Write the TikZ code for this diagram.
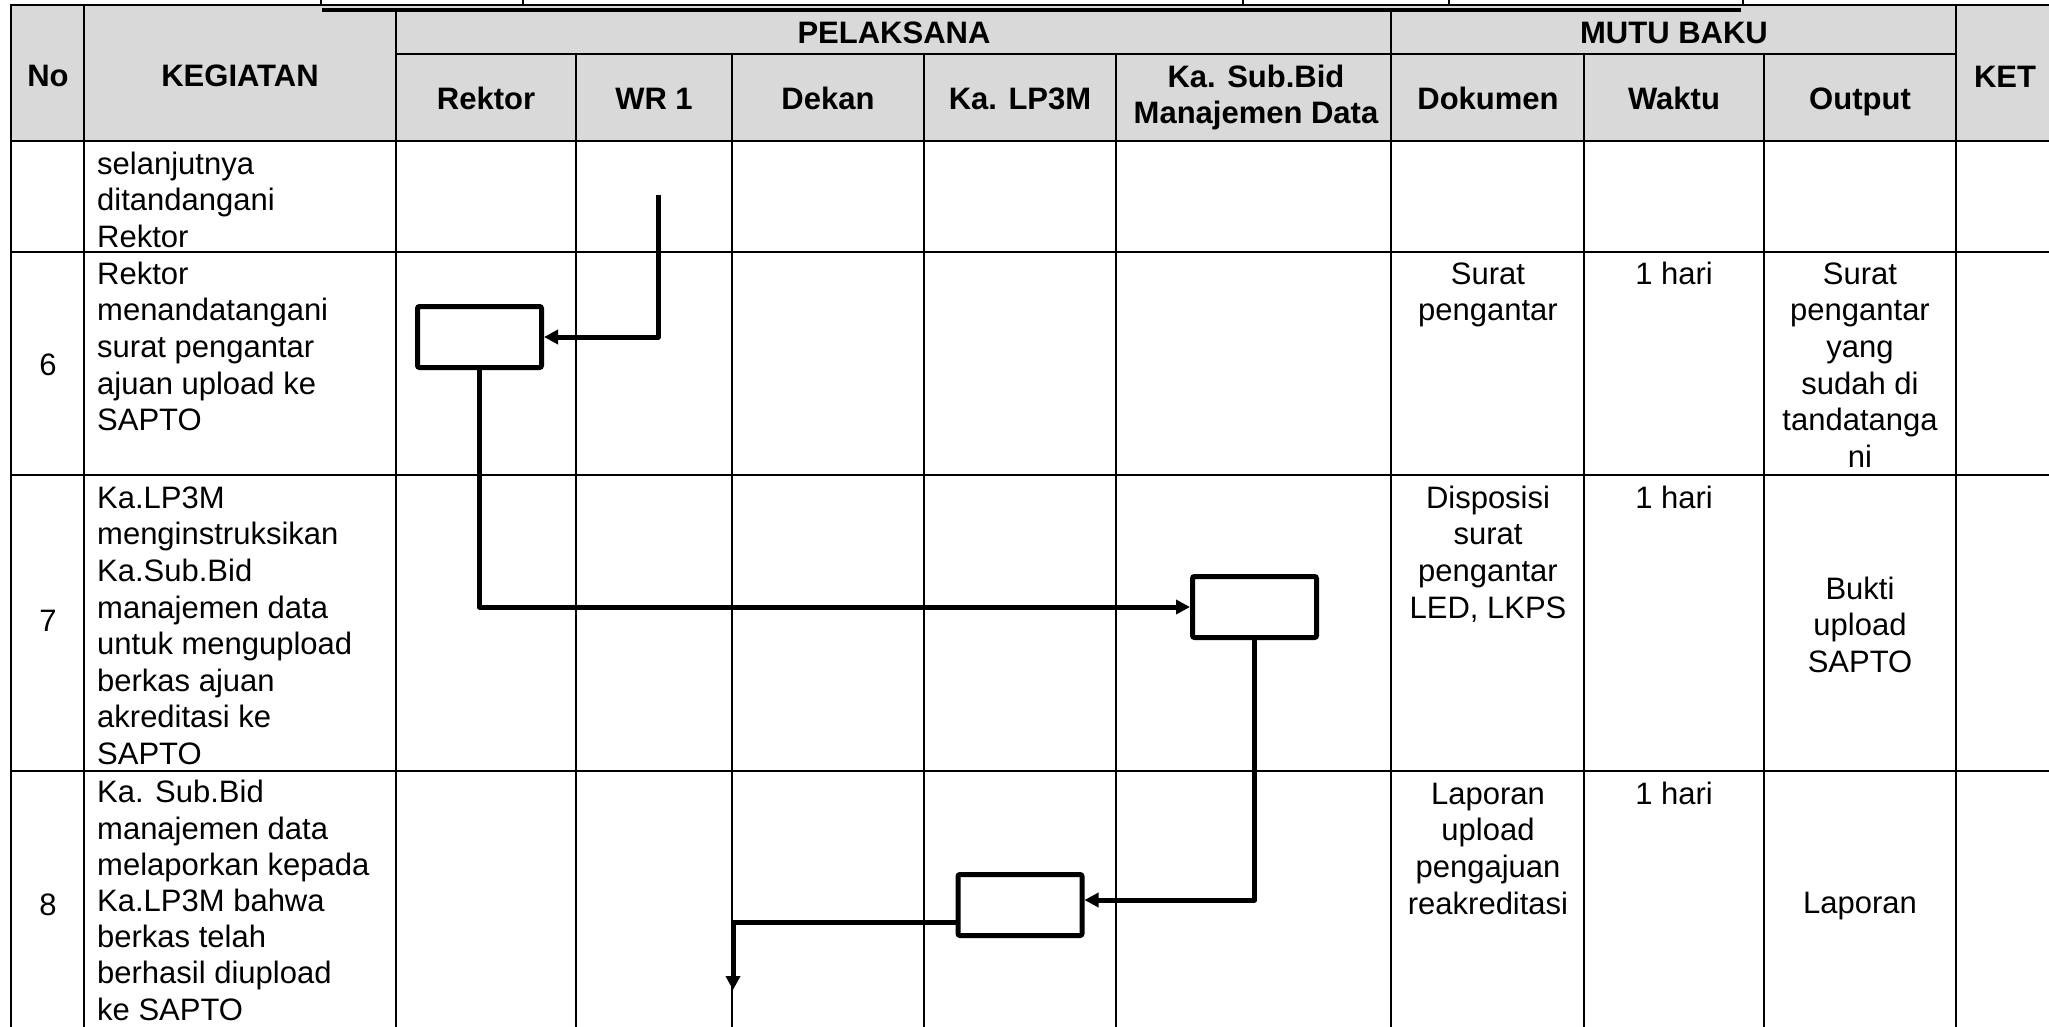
\documentclass[tikz,border=0pt]{standalone}
\usepackage{fontspec}
\setmainfont{Liberation Sans}
\usetikzlibrary{arrows.meta}
\definecolor{hdrgray}{HTML}{D9D9D9}
\begin{document}
\begin{tikzpicture}[x=1pt,y=-1pt,
  txt/.style={font=\fontsize{31}{36.6}\selectfont, inner sep=0pt},
  hd/.style={font=\fontsize{31}{36.6}\selectfont\bfseries, inner sep=0pt},
  cellw/.style={txt, anchor=north west, align=left, yshift=25.62pt},
  cellc/.style={txt, anchor=north, align=center, yshift=25.62pt},
  gridline/.style={line width=2.5pt},
  flowbox/.style={draw, line width=5pt, minimum width=124pt, minimum height=61pt, inner sep=0pt, rounded corners=2pt, fill=white},
  conn/.style={line width=5pt, line join=round, -{Triangle[length=14pt,width=14pt]}}
]
\useasboundingbox (0,0) rectangle (2049,1026);
\begin{scope}
\clip (0,0) rectangle (2049,1026);
% header background
\fill[hdrgray] (11,5) rectangle (2060,141);
% top lines
\draw[line width=2pt] (10,4.5) -- (2060,4.5);
\foreach \xx in {321,523,1243,1449,1743} \draw[line width=2pt] (\xx,0) -- (\xx,5);
\draw[line width=4.5pt] (322,10) -- (1741,10);
% horizontal grid
\foreach \yy in {141,252,475,771} \draw[gridline] (11,\yy) -- (2060,\yy);
\draw[gridline] (396,54) -- (1956,54);
% vertical grid
\foreach \xx in {11,84,1956} \draw[gridline] (\xx,4) -- (\xx,1030);
\foreach \xx in {396,1391} \draw[gridline] (\xx,12) -- (\xx,1030);
\foreach \xx in {576,732,924,1116,1584,1764} \draw[gridline] (\xx,54) -- (\xx,1030);
\end{scope}

% header texts
\node[hd] (hno) at (48,76) {No};
\node[hd] (hkeg) at (240,76) {KEGIATAN};
\node[hd] (hpel) at (894,33) {PELAKSANA};
\node[hd] (hmutu) at (1674,33) {MUTU BAKU};
\node[hd] (hket) at (2005,77) {KET};
\node[hd, anchor=base] (hrek) at (486,109) {Rektor};
\node[hd, anchor=base] (hwr) at (654,109) {WR 1};
\node[hd, anchor=base] (hdek) at (828,109) {Dekan};
\node[hd, anchor=base] (hlp) at (1020,109) {Ka. LP3M};
\node[hd, anchor=north, align=center, yshift=25.62pt] (hsub) at (1256,87) {\strut Ka. Sub.Bid\\Manajemen Data};
\node[hd, anchor=base] (hdok) at (1488,109) {Dokumen};
\node[hd, anchor=base] (hwak) at (1674,109) {Waktu};
\node[hd, anchor=base] (hout) at (1860,109) {Output};

% row 5 (continued)
\node[cellw] (k5) at (97,174) {\strut selanjutnya\\ditandangani\\Rektor};

% row 6
\node[txt] (n6) at (48,365) {6};
\node[cellw] (k6) at (97,284) {\strut Rektor\\menandatangani\\surat pengantar\\ajuan upload ke\\SAPTO};
\node[cellc] (d6) at (1488,284) {\strut Surat\\pengantar};
\node[cellc] (w6) at (1674,284) {\strut 1 hari};
\node[cellc] (o6) at (1860,284) {\strut Surat\\pengantar\\yang\\sudah di\\tandatanga\\ni};

% row 7
\node[txt] (n7) at (48,621) {7};
\node[cellw] (k7) at (97,508) {\strut Ka.LP3M\\menginstruksikan\\Ka.Sub.Bid\\manajemen data\\untuk mengupload\\berkas ajuan\\akreditasi ke\\SAPTO};
\node[cellc] (d7) at (1488,508) {\strut Disposisi\\surat\\pengantar\\LED, LKPS};
\node[cellc] (w7) at (1674,508) {\strut 1 hari};
\node[cellc] (o7) at (1860,599) {\strut Bukti\\upload\\SAPTO};

% row 8
\node[txt] (n8) at (48,905) {8};
\node[cellw, font=\fontsize{31}{36.2}\selectfont] (k8) at (97,803) {\strut Ka. Sub.Bid\\manajemen data\\melaporkan kepada\\Ka.LP3M bahwa\\berkas telah\\berhasil diupload\\ke SAPTO};
\node[cellc] (d8) at (1488,804) {\strut Laporan\\upload\\pengajuan\\reakreditasi};
\node[cellc] (w8) at (1674,804) {\strut 1 hari};
\node[cellc] (o8) at (1860,913) {\strut Laporan};

% flow boxes
\node[flowbox] (box1) at (479.5,337) {};
\node[flowbox] (box2) at (1254.5,607) {};
\node[flowbox] (box3) at (1020,905) {};

% connectors
\coordinate (startA) at (658,195);
\coordinate (endD) at (733,990);
\draw[conn] (startA) |- (box1.east);
\draw[conn] (box1.south) |- (box2.west);
\draw[conn] (box2.south) |- ([yshift=5pt]box3.east);
\draw[conn] ([yshift=-17pt]box3.west) -| (endD);
\end{tikzpicture}
\end{document}
